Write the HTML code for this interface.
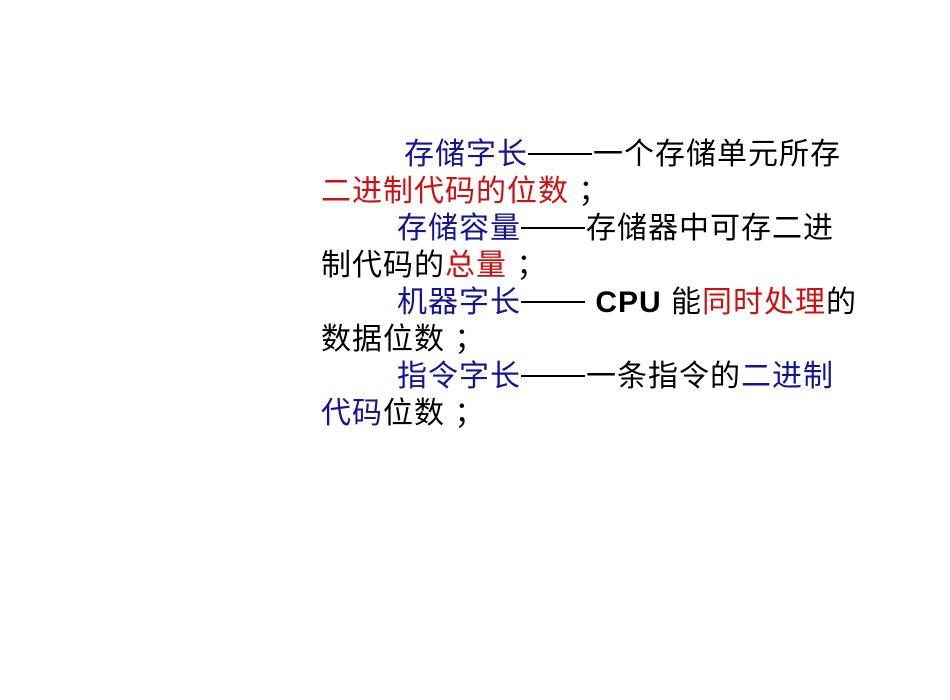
<!DOCTYPE html>
<html><head><meta charset="utf-8"><style>
html,body{margin:0;padding:0;background:#fff;width:950px;height:700px;overflow:hidden}
.l{position:absolute;white-space:nowrap;font-family:"Liberation Sans","Noto Sans CJK SC",sans-serif;font-size:30px;letter-spacing:1px;line-height:37px;color:#000}
.b{color:#141496}.r{color:#d01010}
.d{display:inline-block;width:64px;height:2px;background:#000;vertical-align:9px;margin-right:1px}
</style></head><body>
<div class="l" style="left:404px;top:136px"><span class="b">存储字长</span><span class="d"></span>一个存储单元所存</div>
<div class="l" style="left:321px;top:173px"><span class="r">二进制代码的位数</span> ；</div>
<div class="l" style="left:397px;top:210px"><span class="b">存储容量</span><span class="d"></span>存储器中可存二进</div>
<div class="l" style="left:321px;top:247px">制代码的<span class="r">总量</span> ；</div>
<div class="l" style="left:397px;top:284px"><span class="b">机器字长</span><span class="d"></span> <b>CPU</b> 能<span class="r">同时处理</span>的</div>
<div class="l" style="left:321px;top:321px">数据位数 ；</div>
<div class="l" style="left:397px;top:358px"><span class="b">指令字长</span><span class="d"></span>一条指令的<span class="b">二进制</span></div>
<div class="l" style="left:321px;top:395px"><span class="b">代码</span>位数 ；</div>
</body></html>
